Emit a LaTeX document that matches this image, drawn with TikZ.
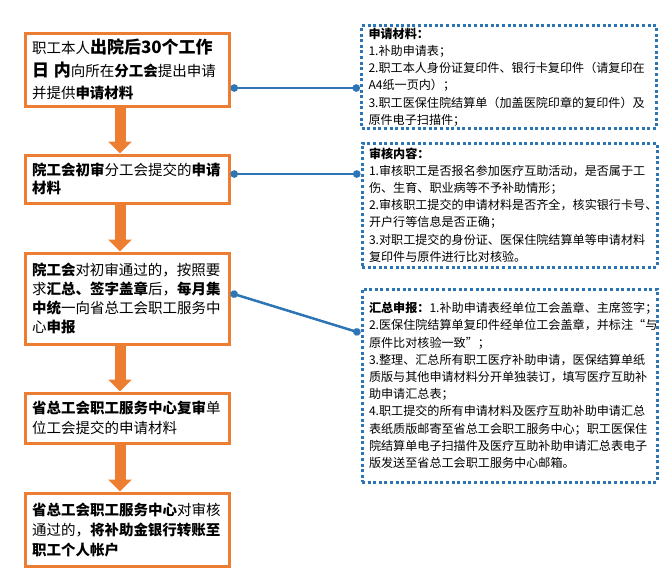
\documentclass[tikz,border=0pt]{standalone}
\usepackage{fontspec}
\setmainfont{Noto Sans CJK SC}
\usetikzlibrary{arrows.meta}

\definecolor{flowor}{HTML}{ED7D31}
\definecolor{notebl}{HTML}{2E75B6}
\newcommand{\bigbold}[1]{{\fontsize{17}{22}\selectfont\bfseries #1}}

\begin{document}
\begin{tikzpicture}[
  x=1pt, y=-1pt,
  stepbox/.style={draw=flowor, line width=3pt, fill=white, minimum width=204pt, text width=190pt,
    inner xsep=7pt, inner ysep=2pt, align=left, font=\fontsize{14.5}{19.5}\selectfont},
  notebox/.style={draw=notebl, line width=3pt, dash pattern=on 3pt off 2.6pt, fill=white,
    minimum width=295pt, text width=281pt, inner xsep=7pt, inner ysep=2pt, align=left,
    font=\fontsize{12.1}{17.2}\selectfont},
  flowarrow/.style={-{Triangle[width=23pt,length=12pt]}, flowor, line width=11pt},
  linkline/.style={{Circle[length=7.5pt,width=7.5pt]}-{Circle[length=7.5pt,width=7.5pt]}, notebl, line width=2.5pt}
]

  \fill[white] (0,0) rectangle (672,574);

  % flow steps on the left
  \node[stepbox, minimum height=73pt, font=\fontsize{14.5}{22.5}\selectfont] (s1) at (127,69.5)
    {职工本人\bigbold{出院后30个工作}\\\bigbold{日\ 内}向所在\textbf{分工会}提出申请\\并提供\textbf{申请材料}};
  \node[stepbox, minimum height=48pt, font=\fontsize{14.5}{18.5}\selectfont] (s2) at (127,179)
    {\textbf{院工会初审}分工会提交的\textbf{申请}\\\textbf{材料}};
  \node[stepbox, minimum height=91pt, font=\fontsize{14.5}{19}\selectfont] (s3) at (127,298.5)
    {\textbf{院工会}对初审通过的，按照要\\求\textbf{汇总、签字盖章}后，\textbf{每月集}\\\textbf{中统}一向省总工会职工服务中\\心\textbf{申报}};
  \node[stepbox, minimum height=50pt] (s4) at (127,418)
    {\textbf{省总工会职工服务中心复审}单\\位工会提交的申请材料};
  \node[stepbox, minimum height=73pt, font=\fontsize{14.5}{20}\selectfont] (s5) at (127,529.5)
    {\textbf{省总工会职工服务中心}对审核\\通过的，\textbf{将补助金银行转账至}\\\textbf{职工个人帐户}};

  % notes on the right
  \node[notebox, minimum width=294pt, minimum height=100pt] (n1) at (509,77)
    {\textbf{申请材料：}\\1.补助申请表；\\2.职工本人身份证复印件、银行卡复印件（请复印在\\A4纸一页内）；\\3.职工医保住院结算单（加盖医院印章的复印件）及\\原件电子扫描件；};
  \node[notebox, minimum height=124pt] (n2) at (509.5,205)
    {\textbf{审核内容：}\\1.审核职工是否报名参加医疗互助活动，是否属于工\\伤、生育、职业病等不予补助情形；\\2.审核职工提交的申请材料是否齐全，核实银行卡号、\\开户行等信息是否正确；\\3.对职工提交的身份证、医保住院结算单等申请材料\\复印件与原件进行比对核验。};
  \node[notebox, minimum height=193pt] (n3) at (509.5,385.5)
    {\textbf{汇总申报：}1.补助申请表经单位工会盖章、主席签字；\\2.医保住院结算单复印件经单位工会盖章，并标注“与\\原件比对核验一致”；\\3.整理、汇总所有职工医疗补助申请，医保结算单纸\\质版与其他申请材料分开单独装订，填写医疗互助补\\助申请汇总表；\\4.职工提交的所有申请材料及医疗互助补助申请汇总\\表纸质版邮寄至省总工会职工服务中心；职工医保住\\院结算单电子扫描件及医疗互助补助申请汇总表电子\\版发送至省总工会职工服务中心邮箱。};

  % arrows between steps
  \foreach \a/\b in {s1/s2, s2/s3, s3/s4, s4/s5}
    \draw[flowarrow] ([xshift=-7pt]\a.south) -- ([xshift=-7pt]\b.north);

  % links to the notes
  \coordinate (k1) at ([yshift=-18.5pt]s1.east);
  \coordinate (k2) at ([yshift=5pt]s2.east);
  \coordinate (k3) at ([yshift=52.5pt]n3.west);
  \draw[linkline] (k1) -- (k1 -| n1.west);
  \draw[linkline] (k2) -- (k2 -| n2.west);
  \draw[linkline] ([yshift=5.5pt]s3.east) -- (k3);

\end{tikzpicture}
\end{document}
